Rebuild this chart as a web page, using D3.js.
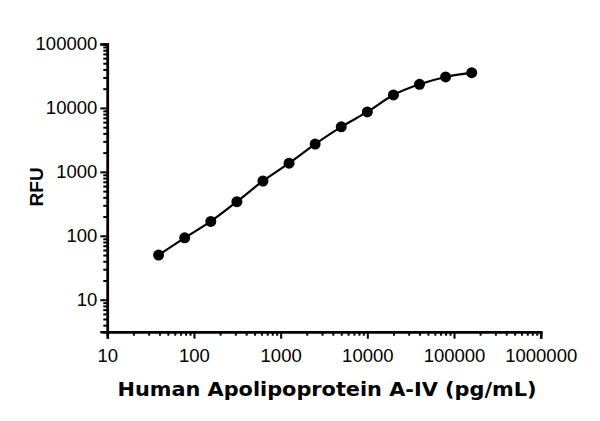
<!DOCTYPE html>
<html>
<head>
<meta charset="utf-8">
<script src="https://cdn.jsdelivr.net/npm/d3@7"></script>
<style>
  body { margin: 0; background: #fff; }
  svg { display: block; }
</style>
</head>
<body>
<script>
// standard curve data (2-fold serial dilution)
var conc = [39.06, 78.13, 156.25, 312.5, 625, 1250, 2500, 5000, 10000, 20000, 40000, 80000, 160000];
var rfu = [50, 93, 168, 342, 720, 1370, 2720, 5060, 8670, 15950, 23440, 30500, 35570];

var xTicks = [10, 100, 1000, 10000, 100000, 1000000];
var yTicks = [10, 100, 1000, 10000, 100000];

var xTitle = "Human Apolipoprotein A-IV (pg/mL)";
var yTitle = "RFU";

var width = 600, height = 421;
var margin = { top: 44, right: 59.3, bottom: 89.3, left: 107.3 };
var chartWidth = width - margin.left - margin.right;
var chartHeight = height - margin.top - margin.bottom;

var svg = d3.select("body").append("svg")
    .attr("width", width)
    .attr("height", height)
  .append("g")
    .attr("transform", "translate(" + margin.left + "," + margin.top + ")");

var xScale = d3.scaleLog().domain([10, 1000000]).range([0, chartWidth]);
var yScale = d3.scaleLog().domain([Math.pow(10, 0.5), 100000]).range([chartHeight, 0]);

// minor ticks 2..9 in each decade, inside the domain
function minorTicks(scale) {
    var d = scale.domain(), out = [];
    for (var e = -1; e < 7; e++) {
        for (var m = 2; m < 10; m++) {
            var v = m * Math.pow(10, e);
            if (v >= d[0] && v <= d[1]) out.push(v);
        }
    }
    return out;
}

function styleAxis(g) {
    g.attr("font-family", null).attr("font-size", null);
    g.select(".domain").attr("stroke", "#000").attr("stroke-width", 2.5);
    g.selectAll(".tick line").attr("stroke", "#000").attr("stroke-width", 2);
    g.selectAll(".tick text")
        .attr("fill", "#000")
        .style("font-family", "'Liberation Sans', Arial, sans-serif")
        .style("font-size", "18.5px");
}

// minor ticks first
svg.append("g")
    .attr("transform", "translate(0," + chartHeight + ")")
    .call(d3.axisBottom(xScale).tickValues(minorTicks(xScale)).tickSize(4).tickFormat(""))
    .call(styleAxis);
svg.append("g")
    .call(d3.axisLeft(yScale).tickValues(minorTicks(yScale)).tickSize(4).tickFormat(""))
    .call(styleAxis);

// major ticks + labels
svg.append("g")
    .attr("transform", "translate(0," + chartHeight + ")")
    .call(d3.axisBottom(xScale).tickValues(xTicks).tickSize(7).tickPadding(10).tickFormat(d3.format("d")))
    .call(styleAxis);
svg.append("g")
    .call(d3.axisLeft(yScale).tickValues(yTicks).tickSize(7).tickPadding(3).tickFormat(d3.format("d")))
    .call(styleAxis);

var data = conc.map(function(c, i) { return { x: c, y: rfu[i] }; });

// fitted curve
var line = d3.line()
    .x(function(d) { return xScale(d.x); })
    .y(function(d) { return yScale(d.y); })
    .curve(d3.curveCatmullRom.alpha(0.5));

svg.append("path")
    .datum(data)
    .attr("fill", "none")
    .attr("stroke", "#000")
    .attr("stroke-width", 2.2)
    .attr("d", line);

svg.selectAll("circle.pt")
    .data(data)
    .enter()
    .append("circle")
    .attr("class", "pt")
    .attr("cx", function(d) { return xScale(d.x); })
    .attr("cy", function(d) { return yScale(d.y); })
    .attr("r", 5.5)
    .attr("fill", "#000");

// axis titles
svg.append("text")
    .attr("x", chartWidth / 2 + 3)
    .attr("y", chartHeight + 64)
    .attr("text-anchor", "middle")
    .attr("textLength", 419)
    .attr("lengthAdjust", "spacingAndGlyphs")
    .style("font-family", "'DejaVu Sans', sans-serif")
    .style("font-weight", "bold")
    .style("font-size", "19.5px")
    .text(xTitle);

svg.append("text")
    .attr("transform", "rotate(-90)")
    .attr("x", -chartHeight / 2 + 1)
    .attr("y", -margin.left + 43)
    .attr("text-anchor", "middle")
    .style("font-family", "'Liberation Sans', Arial, sans-serif")
    .style("font-weight", "bold")
    .style("font-size", "19px")
    .text(yTitle);
</script>
</body>
</html>
